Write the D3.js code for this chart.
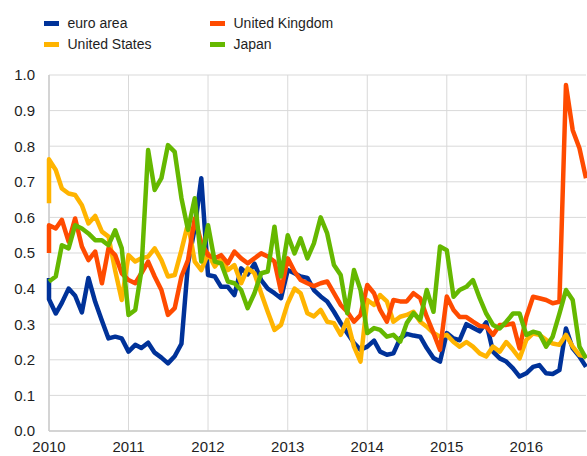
<!DOCTYPE html>
<html lang="en">
<head>
  <meta charset="UTF-8">
  <title>Euro area, US, UK, Japan</title>
  <script src="https://d3js.org/d3.v7.min.js"></script>
  <style>
    body {
      margin: 0;
      background: #fff;
      font-family: "Liberation Sans", Arial, sans-serif;
    }
    .grid line {
      stroke: #d9d9d9;
      stroke-width: 1;
    }
    .tick-label {
      font-size: 15px;
      fill: #1e1e1e;
    }
    .legend text {
      font-size: 14px;
      fill: #1e1e1e;
    }
    .series {
      fill: none;
      stroke-width: 4.5;
      stroke-linejoin: round;
    }
  </style>
</head>
<body>
  <svg width="587" height="456"></svg>
  <script>
    // monthly, Jan 2010 - Oct 2016
    const months = d3.timeMonth.range(new Date(2010, 0, 1), new Date(2016, 10, 1));
    const yearTicks = [2010, 2011, 2012, 2013, 2014, 2015, 2016];
    const yTicks = [0, 0.1, 0.2, 0.3, 0.4, 0.5, 0.6, 0.7, 0.8, 0.9, 1.0];

    const seriesNames = ["euro area", "United States", "United Kingdom", "Japan"];
    const seriesColors = ["#003299", "#ffb400", "#ff4b00", "#65b800"];
    // first value is the opening tick drawn at the start of the axis
    const openVals = [0.43, 0.64, 0.50, 0.42];

    const euroArea = [
      0.37, 0.33, 0.36, 0.40, 0.38, 0.333, 0.43, 0.363, 0.31, 0.26, 0.265, 0.26,
      0.223, 0.242, 0.233, 0.248, 0.22, 0.206, 0.19, 0.21, 0.245, 0.47, 0.57, 0.71,
      0.438, 0.434, 0.405, 0.405, 0.382, 0.457, 0.44, 0.47, 0.424, 0.40, 0.387, 0.373,
      0.452, 0.443, 0.434, 0.43, 0.396, 0.378, 0.364, 0.335, 0.303, 0.275, 0.247, 0.228,
      0.237, 0.254, 0.223, 0.214, 0.218, 0.26, 0.273, 0.268, 0.265, 0.233, 0.205, 0.195,
      0.275, 0.26, 0.255, 0.30, 0.29, 0.28, 0.305, 0.223, 0.204, 0.195, 0.176, 0.153,
      0.162, 0.18, 0.185, 0.162, 0.16, 0.171, 0.288, 0.232, 0.209, 0.18
    ];
    const unitedStates = [
      0.763, 0.733, 0.681, 0.667, 0.663, 0.634, 0.583, 0.604, 0.56, 0.546, 0.45, 0.368,
      0.494, 0.476, 0.485, 0.49, 0.513, 0.48, 0.434, 0.438, 0.508, 0.583, 0.476, 0.452,
      0.499, 0.462, 0.485, 0.452, 0.466, 0.415, 0.457, 0.443, 0.387, 0.335, 0.284, 0.298,
      0.359, 0.40, 0.387, 0.331, 0.322, 0.34, 0.307, 0.303, 0.27, 0.312, 0.237, 0.195,
      0.368, 0.354, 0.382, 0.364, 0.307, 0.321, 0.326, 0.335, 0.307, 0.293, 0.275, 0.265,
      0.27, 0.25, 0.237, 0.25, 0.237, 0.218, 0.209, 0.237, 0.223, 0.25, 0.228, 0.204,
      0.256, 0.274, 0.27, 0.256, 0.246, 0.242, 0.27, 0.237, 0.213, 0.209
    ];
    const unitedKingdom = [
      0.578, 0.569, 0.593, 0.532, 0.597, 0.518, 0.48, 0.504, 0.415, 0.513, 0.494, 0.443,
      0.424, 0.415, 0.443, 0.476, 0.434, 0.396, 0.326, 0.345, 0.434, 0.48, 0.597, 0.53,
      0.494, 0.485, 0.494, 0.471, 0.504, 0.485, 0.471, 0.485, 0.499, 0.49, 0.476, 0.392,
      0.485, 0.448, 0.424, 0.415, 0.407, 0.415, 0.42, 0.387, 0.354, 0.335, 0.307, 0.326,
      0.41, 0.387, 0.34, 0.307, 0.368, 0.364, 0.364, 0.387, 0.373, 0.321, 0.275, 0.228,
      0.378, 0.34, 0.32, 0.32, 0.307, 0.295, 0.293, 0.27, 0.298, 0.298, 0.302, 0.232,
      0.32, 0.377, 0.373, 0.368, 0.359, 0.363, 0.972, 0.845, 0.794, 0.71
    ];
    const japan = [
      0.42, 0.434, 0.522, 0.513, 0.578, 0.569, 0.555, 0.536, 0.536, 0.522, 0.564, 0.513,
      0.326, 0.34, 0.45, 0.789, 0.677, 0.71, 0.803, 0.784, 0.654, 0.565, 0.654, 0.476,
      0.578, 0.476, 0.471, 0.42, 0.415, 0.396, 0.345, 0.387, 0.443, 0.448, 0.574, 0.434,
      0.55, 0.499, 0.541, 0.485, 0.527, 0.6, 0.555, 0.466, 0.438, 0.331, 0.452, 0.396,
      0.275, 0.289, 0.284, 0.265, 0.27, 0.251, 0.303, 0.331, 0.312, 0.396, 0.335, 0.518,
      0.508, 0.377, 0.396, 0.405, 0.424, 0.373, 0.33, 0.298, 0.288, 0.307, 0.33, 0.33,
      0.27, 0.279, 0.274, 0.237, 0.265, 0.33, 0.396, 0.368, 0.237, 0.204
    ];
    const seriesValues = [euroArea, unitedStates, unitedKingdom, japan];

    const svg = d3.select("svg");
    const plot = { left: 49, right: 586, top: 75, bottom: 431 };

    const x = d3.scaleTime()
      .domain([new Date(2010, 0, 1), new Date(2016, 9, 1)])
      .range([plot.left, plot.right]);

    const y = d3.scaleLinear()
      .domain([0, 1])
      .range([plot.bottom, plot.top]);

    // grid
    const grid = svg.append("g").attr("class", "grid");
    grid.selectAll(".h")
      .data(yTicks)
      .enter()
      .append("line")
      .attr("x1", plot.left)
      .attr("x2", plot.right)
      .attr("y1", d => y(d))
      .attr("y2", d => y(d));
    grid.selectAll(".v")
      .data(yearTicks)
      .enter()
      .append("line")
      .attr("x1", d => x(new Date(d, 0, 1)))
      .attr("x2", d => x(new Date(d, 0, 1)))
      .attr("y1", plot.top)
      .attr("y2", plot.bottom);

    // axis lines
    svg.append("line")
      .attr("x1", plot.left).attr("x2", plot.left)
      .attr("y1", plot.top).attr("y2", plot.bottom)
      .attr("stroke", "#cccccc").attr("stroke-width", 1.5);
    svg.append("line")
      .attr("x1", plot.left).attr("x2", plot.right)
      .attr("y1", plot.bottom).attr("y2", plot.bottom)
      .attr("stroke", "#cccccc").attr("stroke-width", 1.5);

    // tick labels
    svg.selectAll(".ylab")
      .data(yTicks)
      .enter()
      .append("text")
      .attr("class", "tick-label")
      .attr("x", 35)
      .attr("y", d => y(d))
      .attr("dy", "0.36em")
      .attr("text-anchor", "end")
      .text(d => d3.format(".1f")(d));

    svg.selectAll(".xlab")
      .data(yearTicks)
      .enter()
      .append("text")
      .attr("class", "tick-label")
      .attr("x", d => x(new Date(d, 0, 1)))
      .attr("y", 452)
      .attr("text-anchor", "middle")
      .text(d => d);

    // lines
    const line = d3.line()
      .x(d => x(d.date))
      .y(d => y(d.value));

    seriesValues.forEach((vals, i) => {
      const pts = [{ date: months[0], value: openVals[i] }]
        .concat(vals.map((v, j) => ({ date: months[j], value: v })));
      svg.append("path")
        .datum(pts)
        .attr("class", "series")
        .attr("stroke", seriesColors[i])
        .attr("d", line);
    });

    // legend: two columns
    const legend = svg.append("g").attr("class", "legend");
    const legendPos = [[44, 0], [44, 1], [210, 0], [210, 1]];
    seriesNames.forEach((name, i) => {
      const [lx, row] = legendPos[i];
      const ly = 23.5 + row * 21;
      legend.append("rect")
        .attr("x", lx)
        .attr("y", ly - 2.5)
        .attr("width", 15)
        .attr("height", 5)
        .attr("fill", seriesColors[i]);
      legend.append("text")
        .attr("x", lx + 23.5)
        .attr("y", ly + 4.8)
        .text(name);
    });
  </script>
</body>
</html>
